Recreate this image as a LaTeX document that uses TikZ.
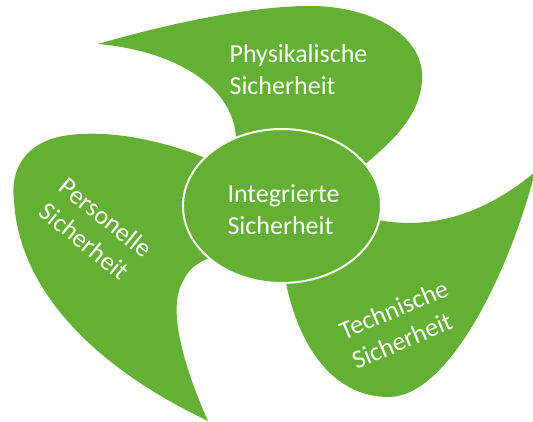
\documentclass[tikz,border=0pt]{standalone}
\usepackage{fontspec}
\setmainfont{Carlito}
\usetikzlibrary{shapes.geometric}
\definecolor{leaf}{HTML}{63B034}
\begin{document}
\begin{tikzpicture}[x=1pt,y=1pt,
  blade/.style={fill=leaf,draw=none},
  hub/.style={ellipse,fill=leaf,draw=white,line width=2pt,minimum width=198pt,minimum height=154pt,inner sep=0pt},
  lbl/.style={text=white,align=left,inner sep=0pt,font=\fontsize{26}{32}\selectfont}]
\useasboundingbox (0,0) rectangle (533,422);
\coordinate (c) at (282,216);
% top blade
\fill[blade] (98,378) .. controls (160,396) and (250,417) .. (315,416)
  .. controls (380,414) and (425,382) .. (422,342)
  .. controls (420,307) and (395,282) .. (358,252)
  -- (c) -- (236,285)
  .. controls (232,340) and (168,372) .. (98,378) -- cycle;
% left blade
\fill[blade] (c) -- (203,265)
  .. controls (160,282) and (110,292) .. (70,287)
  .. controls (25,282) and (10,252) .. (14,222)
  .. controls (18,142) and (80,62) .. (208,1)
  .. controls (183,57) and (168,112) .. (182,139)
  .. controls (188,152) and (195,159) .. (215,166) -- cycle;
% right blade
\fill[blade] (c) -- (378,202)
  .. controls (420,194) and (475,200) .. (535,250)
  .. controls (510,152) and (450,27) .. (390,25)
  .. controls (330,24) and (295,82) .. (284,150) -- cycle;
\node[hub] (hub) at (c) {};
\node[lbl] (mid) at (283.5,212) {Integrierte\\Sicherheit};
\node[lbl] (phys) at (298.5,352) {Physikalische\\Sicherheit};
\node[lbl,rotate=-39] (pers) at (96,192) {Personelle\\Sicherheit};
\node[lbl,rotate=23] (tech) at (400,98) {Technische\\Sicherheit};
\end{tikzpicture}
\end{document}
